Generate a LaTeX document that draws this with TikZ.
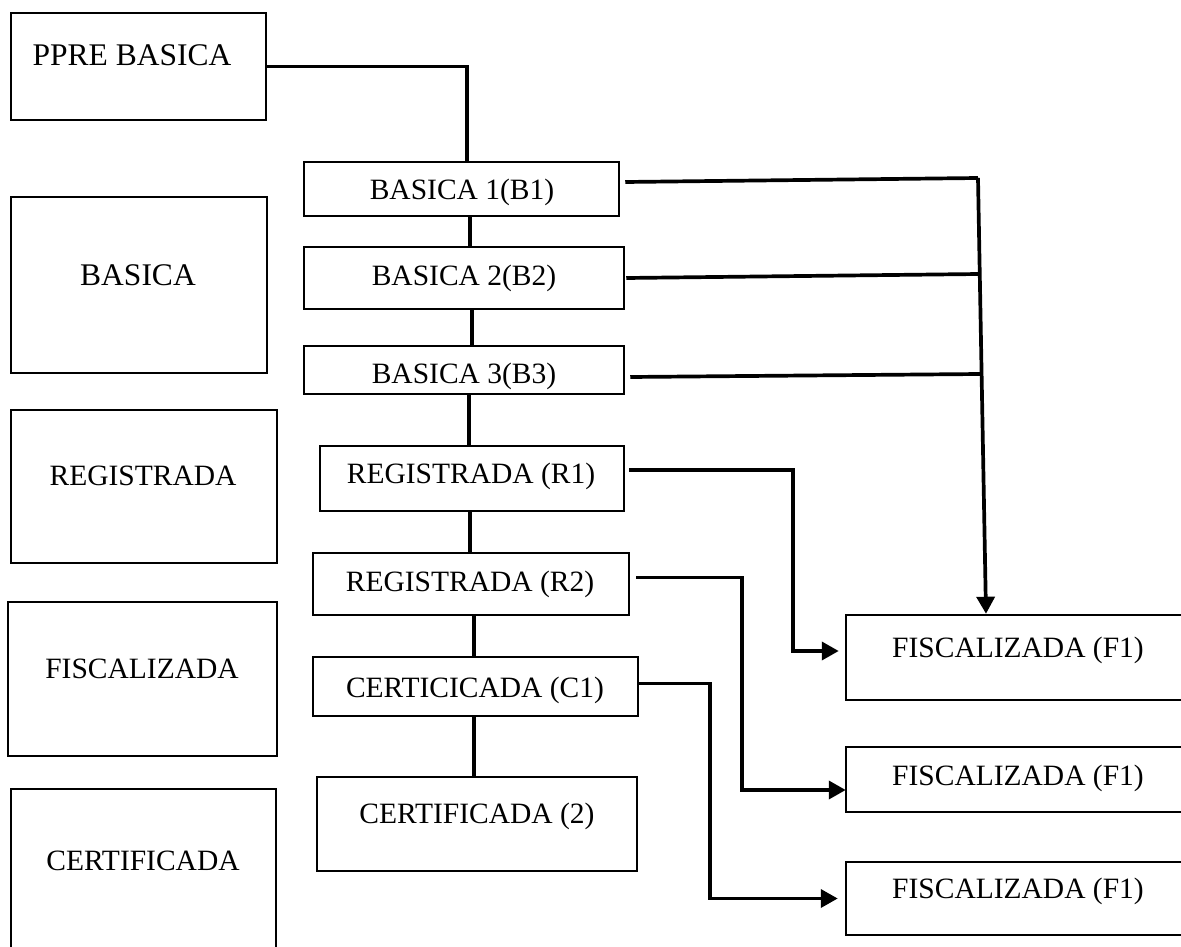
\documentclass[tikz,border=0pt]{standalone}
\usepackage{fontspec}
\setmainfont{Liberation Serif}
\usetikzlibrary{arrows.meta}
\tikzset{
  box/.style={draw=black, line width=2.5pt, rectangle, inner sep=0pt},
  txt/.style={anchor=base, inner sep=0pt, font=\fontsize{29.5}{34}\selectfont},
  bigtxt/.style={anchor=base, inner sep=0pt, font=\fontsize{31.5}{36}\selectfont},
  conn/.style={draw=black, line width=3.7pt},
  arr/.style={conn, -{Triangle[length=17pt,width=18pt]}}
}
\begin{document}
\begin{tikzpicture}[x=1pt,y=-1pt]
\useasboundingbox[fill=white] (0,0) rectangle (1181,947);
% left column
\node[box, minimum width=255pt, minimum height=107pt] (ppre) at (138.5,66.5) {};
\node[box, minimum width=256pt, minimum height=176pt] (basL) at (139,285) {};
\node[box, minimum width=266pt, minimum height=153pt] (regL) at (144,486.5) {};
\node[box, minimum width=269pt, minimum height=154pt] (fisL) at (142.5,679) {};
\node[box, minimum width=265pt, minimum height=171pt] (cerL) at (143.5,874.5) {};
% middle column
\node[box, minimum width=315pt, minimum height=54pt] (b1) at (461.5,189) {};
\node[box, minimum width=320pt, minimum height=62pt] (b2) at (464,278) {};
\node[box, minimum width=320pt, minimum height=48pt] (b3) at (464,370) {};
\node[box, minimum width=304pt, minimum height=65pt] (r1) at (472,478.5) {};
\node[box, minimum width=316pt, minimum height=62pt] (r2) at (471,584) {};
\node[box, minimum width=325pt, minimum height=59pt] (c1) at (475.5,686.5) {};
\node[box, minimum width=320pt, minimum height=94pt] (c2) at (477,824) {};
% right column
\node[box, minimum width=344pt, minimum height=85pt] (f1a) at (1018,657.5) {};
\node[box, minimum width=344pt, minimum height=65pt] (f1b) at (1018,779.5) {};
\node[box, minimum width=344pt, minimum height=73pt] (f1c) at (1018,898.5) {};
% texts
\node[bigtxt] (tppre) at (132,66) {PPRE BASICA};
\node[bigtxt] (tbasL) at (138,285) {BASICA};
\node[txt] (tregL) at (143,485) {REGISTRADA};
\node[txt] (tfisL) at (142,678) {FISCALIZADA};
\node[txt] (tcerL) at (143,870) {CERTIFICADA};
\node[txt] (tb1) at (462,200) {BASICA 1(B1)};
\node[txt] (tb2) at (464,285) {BASICA 2(B2)};
\node[txt] (tb3) at (464,383) {BASICA 3(B3)};
\node[txt] (tr1) at (471,483) {REGISTRADA (R1)};
\node[txt] (tr2) at (470,591) {REGISTRADA (R2)};
\node[txt] (tc1) at (475,697) {CERTICICADA (C1)};
\node[txt] (tc2) at (477,823) {CERTIFICADA (2)};
\node[txt] (tf1a) at (1018,657) {FISCALIZADA (F1)};
\node[txt] (tf1b) at (1018,785) {FISCALIZADA (F1)};
\node[txt] (tf1c) at (1018,898) {FISCALIZADA (F1)};
% vertical chain
\draw[conn] (ppre.east) -| ([xshift=5.5pt]b1.north);
\draw[conn] ([xshift=8.5pt]b1.south) -- ([xshift=8.5pt]b1.south |- b2.north);
\draw[conn] ([xshift=8pt]b2.south) -- ([xshift=8pt]b2.south |- b3.north);
\draw[conn] ([xshift=5pt]b3.south) -- ([xshift=5pt]b3.south |- r1.north);
\draw[conn] ([xshift=-2pt]r1.south) -- ([xshift=-2pt]r1.south |- r2.north);
\draw[conn] ([xshift=3pt]r2.south) -- ([xshift=3pt]r2.south |- c1.north);
\draw[conn] ([xshift=-1.5pt]c1.south) -- ([xshift=-1.5pt]c1.south |- c2.north);
% basica branches
\coordinate (j1) at (978,178);
\coordinate (j2) at (979,274);
\coordinate (j3) at (980,374);
\draw[conn] ([xshift=5pt,yshift=7pt]b1.east) -- (j1);
\draw[arr] (j1) -- ([xshift=-32pt]f1a.north);
\draw[conn] ([xshift=1pt]b2.east) -- (j2);
\draw[conn] ([xshift=5pt,yshift=-7pt]b3.east) -- (j3);
% elbow arrows
\draw[arr] ([xshift=4pt,yshift=8.5pt]r1.east) -| (793,651) -- ([xshift=-6pt,yshift=6.5pt]f1a.west);
\draw[arr] ([xshift=6pt,yshift=6.5pt]r2.east) -| (742,790) -- ([xshift=1pt,yshift=-10.5pt]f1b.west);
\draw[arr] ([yshift=3pt]c1.east) -| (710,898.5) -- ([xshift=-7pt]f1c.west);
\end{tikzpicture}
\end{document}
